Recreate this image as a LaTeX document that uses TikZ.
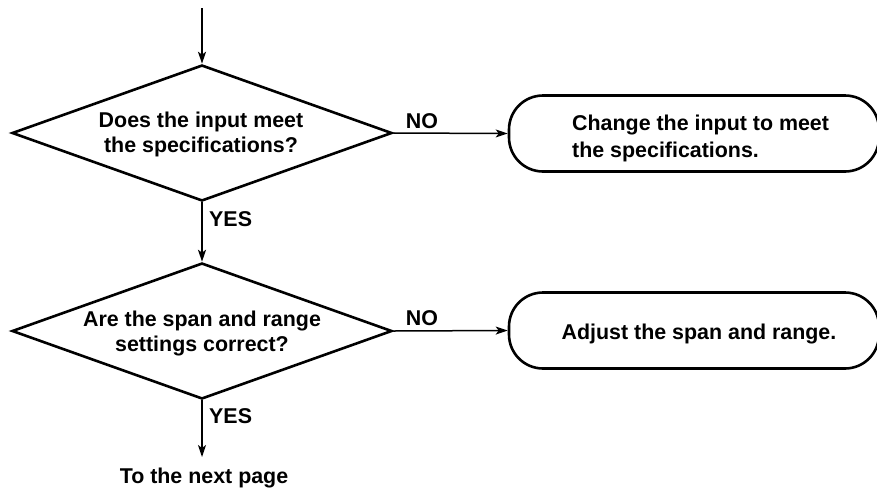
\documentclass[tikz,border=0pt]{standalone}
\usepackage{fontspec}
\setmainfont{Liberation Sans}
\usetikzlibrary{shapes.geometric,arrows.meta}
\begin{document}
\begin{tikzpicture}[x=1pt,y=-1pt,
  decision/.style={diamond,draw,line width=2.6pt,inner sep=0pt,minimum width=380pt,minimum height=136pt},
  actbox/.style={draw,line width=2.6pt,rounded corners=34pt,minimum width=370pt,minimum height=76pt,inner sep=0pt},
  txt/.style={font=\fontsize{21.4}{25}\selectfont\bfseries,inner sep=0pt},
  flow/.style={line width=1.5pt,-{Stealth[length=12pt,width=8pt,inset=3pt]}}]
\useasboundingbox (0,0) rectangle (877,488);
\coordinate (start) at (202,8);
\node[decision] (d1) at (202,133) {};
\node[decision] (d2) at (202,331) {};
\node[actbox] (b1) at (694,133.5) {};
\node[actbox] (b2) at (694,330.5) {};
\node[txt,align=center,anchor=base] (t1) at (201,152) {Does the input meet\\the specifications?};
\node[txt,align=center,anchor=base] (t2) at (202,351) {Are the span and range\\settings correct?};
\node[txt,align=left,anchor=base west,font=\fontsize{21.4}{27}\selectfont\bfseries] (t3) at (572,157) {Change the input to meet\\the specifications.};
\node[txt,anchor=base] (t4) at (699,339) {Adjust the span and range.};
\node[txt,anchor=base] (no1) at (422,128) {NO};
\node[txt,anchor=base] (no2) at (422,325) {NO};
\node[txt,anchor=base west] (yes1) at (209,226.5) {YES};
\node[txt,anchor=base west] (yes2) at (209,423) {YES};
\node[txt,anchor=base] (next) at (204,483) {To the next page};
\coordinate (end) at (202,457);
\draw[flow] (start) -- (d1.north);
\draw[flow] (d1.east) -- (b1.west);
\draw[flow] (d1.south) -- (d2.north);
\draw[flow] (d2.east) -- (b2.west);
\draw[flow] (d2.south) -- (end);
\end{tikzpicture}
\end{document}
